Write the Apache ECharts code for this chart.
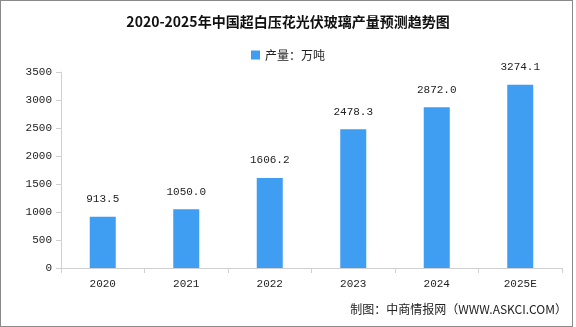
<!DOCTYPE html>
<html>
<head>
<meta charset="utf-8">
<script src="https://cdn.jsdelivr.net/npm/echarts@6/dist/echarts.min.js"></script>
<style>
  html, body { margin: 0; padding: 0; background: #fff; }
  #frame { position: absolute; left: 0; top: 0; width: 571px; height: 325px; border: 1px solid #8a8a8a; }
  #chart { position: absolute; left: 0; top: 0; width: 576px; height: 327px; }
</style>
</head>
<body>
<div id="frame"></div>
<div id="chart"></div>
<script>
// 2020-2025 production of ultra-white rolled PV glass (10k tonnes)
const years = ['2020', '2021', '2022', '2023', '2024', '2025E'];
const output = [913.5, 1050.0, 1606.2, 2478.3, 2872.0, 3274.1];
const yTicks = [0, 500, 1000, 1500, 2000, 2500, 3000, 3500];

const cjk = '"Noto Sans CJK SC", "DejaVu Sans", sans-serif';
const num = '"Liberation Mono", "DejaVu Sans Mono", monospace';

const chart = echarts.init(document.getElementById('chart'));
chart.setOption({
  animation: false,
  title: {
    text: '2020-2025年中国超白压花光伏玻璃产量预测趋势图',
    left: 'center',
    top: 10,
    textStyle: { fontFamily: cjk, fontSize: 14, fontWeight: 'bold', color: '#111' }
  },
  legend: {
    top: 44,
    left: 'center',
    itemWidth: 9,
    itemHeight: 9,
    itemGap: 6,
    icon: 'rect',
    textStyle: { fontFamily: cjk, fontSize: 12, color: '#222' },
    data: ['产量：万吨']
  },
  graphic: [{
    type: 'text',
    right: 9,
    top: 303,
    style: { text: '制图：中商情报网（WWW.ASKCI.COM）', font: '12px ' + cjk, fill: '#222' }
  }],
  grid: { left: 61, right: 14, top: 72, bottom: 59 },
  xAxis: {
    type: 'category',
    data: years,
    axisLine: { lineStyle: { color: '#d0d0d0' } },
    axisTick: { show: true, lineStyle: { color: '#d0d0d0' } },
    axisLabel: { fontFamily: num, fontSize: 11, color: '#222', margin: 11 }
  },
  yAxis: {
    type: 'value',
    min: yTicks[0],
    max: yTicks[yTicks.length - 1],
    interval: 500,
    axisLine: { show: true, lineStyle: { color: '#d0d0d0' } },
    axisTick: { show: true, lineStyle: { color: '#d0d0d0' } },
    splitLine: { show: false },
    axisLabel: { fontFamily: num, fontSize: 11, color: '#222', margin: 9, formatter: v => String(v) }
  },
  series: [{
    name: '产量：万吨',
    type: 'bar',
    data: output,
    barWidth: 26,
    itemStyle: { color: '#3f9df2' },
    label: {
      show: true,
      position: 'top',
      distance: 12,
      fontFamily: num,
      fontSize: 11,
      color: '#222',
      formatter: p => p.value.toFixed(1)
    }
  }]
});
</script>
</body>
</html>
